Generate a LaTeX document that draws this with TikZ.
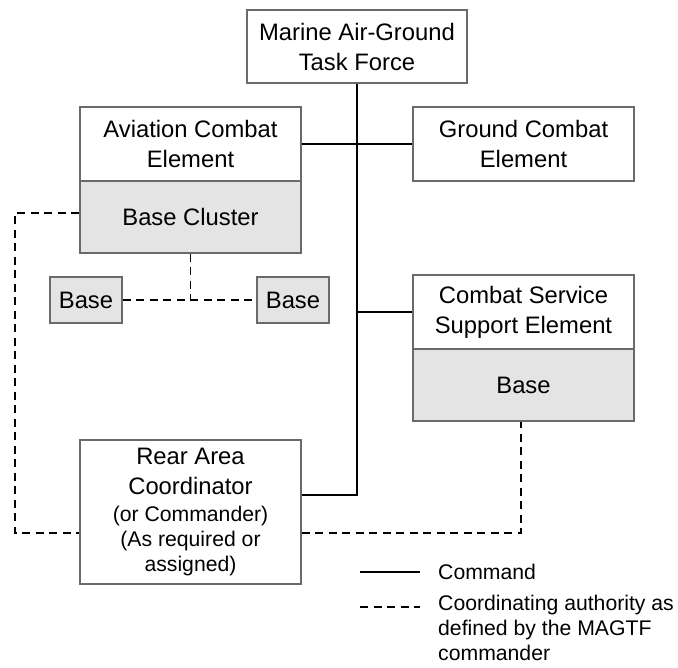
\documentclass[tikz,border=0pt]{standalone}
\usepackage{fontspec}
\setmainfont{Liberation Sans}
\usetikzlibrary{shapes, arrows, positioning}
\definecolor{boxline}{HTML}{6A6A6A}
\definecolor{boxgrey}{HTML}{E4E4E4}
\begin{document}
\begin{tikzpicture}[x=1pt, y=-1pt,
		unit/.style={draw=boxline, line width=1.3pt, minimum width=221pt, inner sep=0pt, align=center, font=\fontsize{23.8}{30}\selectfont},
		shade/.style={unit, fill=boxgrey},
		small/.style={shade, minimum width=72pt, minimum height=46pt},
		cmd/.style={line width=1.6pt},
		coord/.style={line width=1.6pt, dash pattern=on 8pt off 5.5pt}]
		\useasboundingbox (0,0) rectangle (678,668);
		\node[unit, minimum width=220pt, minimum height=73pt] (magtf) at (357, 46.5) {Marine Air-Ground\\Task Force};
		\node[unit, minimum height=74pt] (ace) at (190.5, 144) {Aviation Combat\\Element};
		\node[shade, minimum height=72pt] (cluster) at (190.5, 217) {Base Cluster};
		\node[unit, minimum height=74pt] (gce) at (523.5, 144) {Ground Combat\\Element};
		\node[small] (baseL) at (86, 300) {Base};
		\node[small] (baseR) at (293, 300) {Base};
		\node[unit, minimum height=74pt] (csse) at (523.5, 312) {Combat Service\\Support Element};
		\node[shade, minimum height=72pt] (csbase) at (523.5, 385) {Base};
		\node[unit, minimum height=144pt] (rac) at (190.5, 512) {Rear Area\\Coordinator\\[-3pt]{\fontsize{21.2}{25}\selectfont (or Commander)}\\[-5pt]{\fontsize{21.2}{25}\selectfont (As required or}\\[-5pt]{\fontsize{21.2}{25}\selectfont assigned)}};
		\coordinate (ldash) at (15, 533);
		\coordinate (rdash) at (521, 533);
		\coordinate (leg1) at (360, 572);
		\coordinate (leg2) at (420, 572);
		\coordinate (leg3) at (360, 607);
		\coordinate (leg4) at (420, 607);
		\node[anchor=west, inner sep=0pt, font=\fontsize{21.2}{25}\selectfont] (lcmd) at (438, 572) {Command};
		\node[anchor=north west, inner sep=0pt, align=left, font=\fontsize{21.2}{25}\selectfont] (lcoord) at (438, 595) {Coordinating authority as\\defined by the MAGTF\\commander};
		\draw[cmd] (magtf.south) |- ([yshift=17pt]rac.east);
		\draw[cmd] (ace.east) -- (gce.west);
		\draw[cmd] (magtf.south |- csse.west) -- (csse.west);
		\draw[coord] ([yshift=4pt]cluster.west) -| (ldash) -- (rac.west |- ldash);
		\draw[coord] (rac.east |- rdash) -- (rdash) -- (rdash |- csbase.south);
		\draw[coord] (cluster.south) -- (cluster.south |- baseL.east);
		\draw[coord] (baseL.east) -- (baseR.west);
		\draw[cmd] (leg1) -- (leg2);
		\draw[coord] (leg3) -- (leg4);
	\end{tikzpicture}
\end{document}
